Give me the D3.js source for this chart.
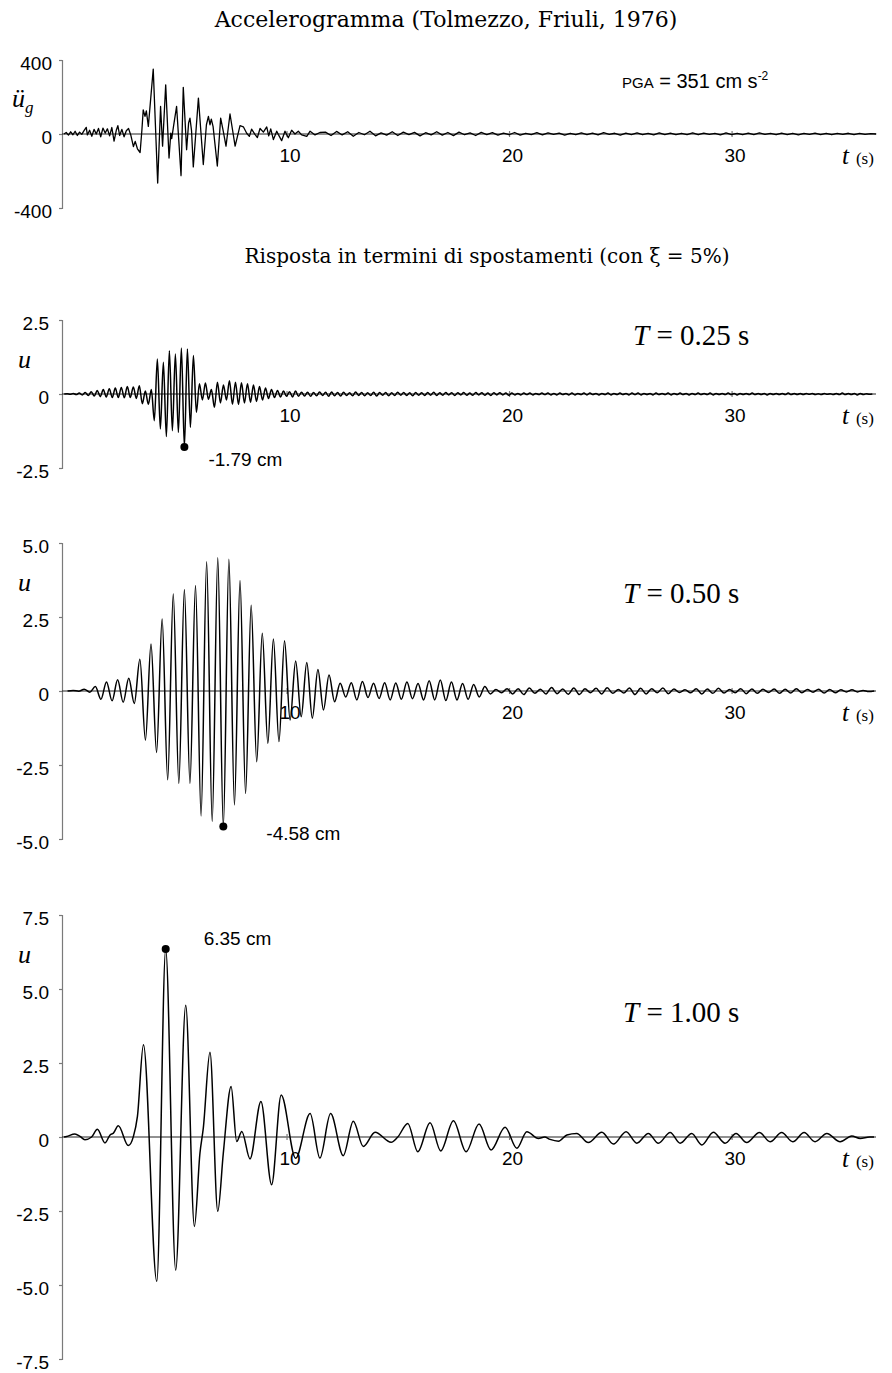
<!DOCTYPE html>
<html>
<head>
<meta charset="utf-8">
<script src="https://cdn.jsdelivr.net/npm/d3@7"></script>
<style>
  body { margin: 0; background: #fff; }
  text { fill: #000; }
</style>
</head>
<body>
<svg id="chart" width="892" height="1373"></svg>
<script>
// ---------------------------------------------------------------
// Ground acceleration, Tolmezzo (Friuli 1976), cm/s^2
// strong-motion part as [t (s), a] pairs
const accelMain = [
  [0,0],[0.1,8],[0.2,-6],[0.3,12],[0.4,-4],[0.5,15],[0.6,-8],[0.7,10],[0.8,-2],[0.9,18],
  [1.0,36],[1.05,-5],[1.15,20],[1.25,-12],[1.35,25],[1.45,0],[1.55,30],[1.65,-15],[1.75,32],
  [1.85,5],[1.95,28],[2.05,-10],[2.15,35],[2.25,-38],[2.35,20],[2.42,45],[2.5,-8],[2.6,25],
  [2.7,-15],[2.8,18],[2.9,30],[3.0,-5],[3.12,-68],[3.2,-40],[3.3,-80],[3.42,-100],[3.5,20],
  [3.56,130],[3.64,95],[3.7,125],[3.79,41],[4.01,351],[4.21,-265],[4.34,149],[4.43,-66],
  [4.57,266],[4.72,-130],[4.8,5],[4.84,-25],[4.92,40],[5.06,149],[5.26,-225],[5.36,252],
  [5.51,-85],[5.6,60],[5.66,86],[5.73,20],[5.81,-178],[6.04,194],[6.26,-165],[6.4,50],
  [6.49,95],[6.56,50],[6.62,80],[6.7,40],[6.89,-173],[7.04,86],[7.15,20],[7.28,-66],
  [7.46,108],[7.69,-66],[7.91,45],[8.06,39],[8.21,4],[8.33,-13],[8.43,26],[8.58,-2],
  [8.69,-19],[8.81,30],[8.96,10],[9.11,38],[9.2,-10],[9.29,28],[9.41,-30],[9.56,15],
  [9.63,-2],[9.78,-36],[9.93,15],[10.08,-20],[10.23,20],[10.38,0],[10.53,15],[10.68,-5],
  [10.91,-13],[11.06,15],[11.28,-5],[11.5,8]
];
// weak tail, one reading every 0.25 s starting at 11.75 s
const accelTailStart = 11.75;
const accelTailStep = 0.25;
const accelTail = [
  10,-8,14,-5,12,-12,8,-4,15,-10,6,-6,12,-8,10,-3,9,-10,7,-5,12,-6,8,-9,10,-4,6,-8,9,-3,7,-6,
  5,-4,8,-6,4,-3,7,-5,6,-2,5,-6,4,-4,6,-3,5,-5,7,-2,4,-6,5,-3,6,-4,3,-5,6,-3,5,-4,
  4,-3,6,-4,5,-2,3,-5,6,-3,4,-4,5,-3,6,-2,3,-4,5,-3,4,-5,3,-2,5,-3,4,-4,3,-2,4,-3,3,-2,2,0
];
const pga = 351;

// Displacement response u (cm), T = 0.25 s: successive extremes every half cycle
const u025Start = 0.01;
const u025Step = 0.135;
const u025 = [
  0,0.01,-0.01,0.02,-0.02,0.03,-0.03,0.05,-0.05,0.08,-0.07,0.12,-0.09,0.15,-0.1,0.18,-0.12,0.2,
  -0.12,0.22,-0.13,0.25,-0.12,0.24,-0.15,0.28,-0.33,0.1,-0.35,0.15,
  -0.9,1.18,-1.18,1.07,-1.44,1.46,-1.24,1.35,-1.30,1.55,-1.79,1.52,-1.13,1.30,-0.62,
  0.35,-0.2,0.37,-0.18,0.15,-0.45,0.4,-0.3,0.3,-0.2,0.45,-0.35,0.4,-0.35,0.38,-0.3,0.35,-0.28,
  0.3,-0.25,0.25,-0.2,0.2,-0.15,0.15,-0.12,0.12,-0.1,0.1,-0.08,0.08,-0.1,0.1,-0.08,0.06,
  -0.07,0.06,-0.08,0.05,-0.06,0.07,-0.05,0.06,-0.08,0.07,-0.06,0.05,-0.07,0.06,-0.05,0.04,
  -0.06,0.07,-0.05,0.05,-0.06,0.04,-0.05,0.06,-0.07,0.05,-0.04,0.05,-0.06,0.04,-0.05,0.06,
  -0.04,0.05,-0.05,0.04,-0.06,0.05,-0.04,0.04,-0.05,0.05,-0.04,0.06,-0.05,0.04,-0.04,0.05,
  -0.03,0.04,-0.05,0.04,-0.03,0.05,-0.04,0.03,-0.04,0.05,-0.03,0.04,-0.04,0.03,-0.05,0.04,
  -0.03,0.04,-0.03,0.03,-0.04,0.03,
  -0.03,0.02,-0.03,0.03,-0.02,0.03,-0.03,0.02,-0.02,0.03,-0.02,0.03,-0.03,0.02,-0.03,0.03,
  -0.02,0.02,-0.03,0.03,-0.03,0.02,-0.02,0.03,-0.03,0.03,-0.02,0.02,-0.03,0.02,-0.02,0.03,
  -0.03,0.02,-0.02,0.03,-0.02,0.02,-0.03,0.03,-0.02,0.03,-0.03,0.02,-0.02,0.02,-0.03,0.03,
  -0.02,0.02,-0.02,0.03,-0.03,0.02,-0.02,0.03,-0.02,0.02,-0.03,0.02,-0.02,0.03,-0.02,0.02,
  -0.02,0.03,-0.03,0.02,-0.02,0.02,-0.02,0.03,-0.02,0.02,-0.03,0.02,-0.02,0.02,-0.02,0.03,
  -0.02,0.02,-0.02,0.02,-0.03,0.02,-0.02,0.02,-0.02,0.02,-0.02,0.03,-0.02,0.02,-0.02,0.02,
  -0.02,0.02,-0.01,0.02,-0.02,0.01,-0.02,0.02,-0.01,0.01,-0.02,0.02,-0.02,0.03,-0.02,0.02,
  -0.02,0.02,-0.03,0.02,-0.02,0.01,-0.01,0
];
const u025Peak = { t: 5.41, u: -1.79 };

// T = 0.50 s
const u050Start = 0.16;
const u050Step = 0.25;
const u050 = [
  0,0.02,-0.01,0.06,-0.04,0.15,-0.28,0.3,-0.33,0.38,-0.38,0.43,-0.42,
  1.07,-1.66,1.59,-2.08,2.43,-3.0,3.28,-3.12,3.43,-3.12,3.56,-4.22,4.37,-4.41,4.5,-4.58,
  4.45,-3.85,3.73,-3.46,2.9,-2.39,1.95,-1.77,1.76,-1.71,1.7,-0.98,1.01,-0.87,0.96,-0.92,0.73,
  -0.64,0.54,-0.36,0.26,-0.2,0.28,-0.3,0.32,-0.22,0.26,-0.25,0.28,-0.3,0.27,-0.28,0.3,-0.26,
  0.25,-0.3,0.35,-0.3,0.37,-0.32,0.3,-0.3,0.25,-0.28,0.22,-0.2,0.15,-0.1,0.05,-0.06,0.08,
  -0.1,0.08,-0.12,0.1,-0.08,0.06,-0.1,0.12,-0.09,0.07,-0.11,0.1,-0.12,0.08,-0.06,0.09,-0.1,
  0.11,-0.08,0.05,-0.07,0.1,-0.12,0.09,-0.1,0.08,-0.06,0.1,-0.09,0.07,-0.05,0.04,-0.06,0.08,
  -0.1,0.07,-0.08,0.09,-0.07,0.05,-0.06,0.08,-0.09,0.07,-0.08,0.06,-0.05,0.07,-0.08,0.06,
  -0.07,0.08,-0.06,0.05,-0.04,0.06,-0.07,0.05,-0.06,0.04,-0.03,0.04,-0.03,0.02,-0.02,0
];
const u050Peak = { t: 7.16, u: -4.58 };

// T = 1.00 s, [t (s), u (cm)]
const u100 = [
  [0,0],[0.12,0.02],[0.49,0.1],[0.72,0.02],[0.94,-0.09],[1.24,0],[1.5,0.26],[1.84,-0.2],
  [2.07,0.07],[2.22,0.13],[2.44,0.38],[2.89,-0.29],[3.12,0.02],[3.3,0.7],[3.57,3.12],
  [4.17,-4.88],[4.57,6.35],[5.02,-4.5],[5.47,4.45],[5.86,-3.02],[6.11,-0.54],[6.26,0.3],
  [6.56,2.86],[6.91,-2.51],[7.16,-0.54],[7.51,1.71],[7.76,-0.15],[7.99,0.19],[8.36,-0.74],
  [8.85,1.2],[9.33,-1.61],[9.76,1.42],[10.41,-0.72],[11.06,0.79],[11.5,-0.71],[11.98,0.79],
  [12.55,-0.63],[13.0,0.53],[13.45,-0.32],[13.98,0.16],[14.7,-0.18],[15.0,0],[15.45,0.46],
  [15.9,-0.5],[16.45,0.48],[16.93,-0.47],[17.5,0.55],[18.07,-0.5],[18.65,0.44],[19.19,-0.44],
  [19.82,0.33],[20.35,-0.38],[20.8,0.18],[21.32,-0.05],[21.6,0],[21.84,-0.08],[22.22,-0.14],
  [22.6,0.07],[23.04,0.12],[23.56,-0.19],[24.17,0.16],[24.69,-0.24],[25.26,0.18],[25.74,-0.21],
  [26.26,0.12],[26.71,-0.21],[27.24,0.15],[27.69,-0.21],[28.21,0.12],[28.66,-0.27],[29.18,0.16],
  [29.71,-0.21],[30.2,0.12],[30.68,-0.19],[31.25,0.15],[31.73,-0.16],[32.25,0.15],[32.75,-0.16],
  [33.26,0.15],[33.75,-0.16],[34.28,0.12],[34.88,-0.16],[35.4,0.03],[35.78,-0.05],[36.2,0],[36.4,0]
];
const u100Peak = { t: 4.57, u: 6.35 };

// axis ticks
const timeTicks = [10, 20, 30];
const accelTicks = [-400, 0, 400];
const u025Ticks = [-2.5, 0, 2.5];
const u050Ticks = [-5, -2.5, 0, 2.5, 5];
const u100Ticks = [-7.5, -5, -2.5, 0, 2.5, 5, 7.5];
const tEnd = 36.4;

// ---------------------------------------------------------------
const W = 892, H = 1373;
const svg = d3.select('#chart');
svg.append('rect').attr('width', W).attr('height', H).attr('fill', '#fff');

const SANS = "'Liberation Sans', Arial, sans-serif";
const SERIF = "'Liberation Serif', 'Times New Roman', serif";
const TITLE = "'DejaVu Serif', serif";

const x = d3.scaleLinear().domain([0, tEnd]).range([64, 874]);
const AXIS_X = 62;

// plain hyphen for negative numbers
const hyphen = s => s.replace('\u2212', '-');

function pairsFromSteps(start, step, vals) {
  return vals.map((v, i) => [start + i * step, v]);
}

function panel(opts) {
  const y = d3.scaleLinear().domain([-opts.max, opts.max]).range([opts.bottom, opts.top]);
  const g = svg.append('g');

  // vertical axis
  const yAxis = d3.axisLeft(y)
    .tickValues(opts.ticks)
    .tickSize(3)
    .tickSizeOuter(3)
    .tickPadding(opts.pad)
    .tickFormat(opts.fmt);
  const ya = g.append('g').attr('transform', `translate(${AXIS_X},0)`).call(yAxis);
  ya.select('.domain').attr('stroke', '#7a7a7a').attr('stroke-width', 1.2);
  ya.selectAll('.tick line').attr('stroke', '#7a7a7a').attr('stroke-width', 1.2);
  ya.selectAll('.tick text')
    .attr('font-family', SANS).attr('font-size', 19).attr('fill', '#000')
    .attr('dy', '0.52em');

  // zero line with time ticks
  const y0 = y(0);
  g.append('line')
    .attr('x1', AXIS_X).attr('x2', 876).attr('y1', y0).attr('y2', y0)
    .attr('stroke', '#222').attr('stroke-width', 1);
  const xAxis = d3.axisBottom(x).tickValues(timeTicks).tickSize(6).tickPadding(12).tickFormat(d3.format('d'));
  const xa = g.append('g').attr('transform', `translate(0,${y0 - 3})`).call(xAxis);
  xa.select('.domain').remove();
  xa.selectAll('.tick line').attr('stroke', '#7a7a7a').attr('stroke-width', 1.2);
  xa.selectAll('.tick text')
    .attr('font-family', SANS).attr('font-size', 19).attr('fill', '#000').attr('dx', 3);

  // "t (s)"
  const tl = g.append('text').attr('x', 842).attr('y', y0 + 30).attr('font-family', SERIF);
  tl.append('tspan').attr('font-style', 'italic').attr('font-size', 25).text('t');
  tl.append('tspan').attr('font-size', 17).attr('dx', 7).text('(s)');

  // data curve
  const line = d3.line()
    .x(d => x(d[0]))
    .y(d => y(d[1]))
    .curve(opts.curve);
  g.append('path')
    .datum(opts.data)
    .attr('d', line)
    .attr('fill', 'none')
    .attr('stroke', '#000')
    .attr('stroke-width', opts.width || 1.5)
    .attr('stroke-linejoin', 'round');

  // peak marker
  if (opts.peak) {
    const px = x(opts.peak.t), py = y(opts.peak.u);
    g.append('circle').attr('cx', px).attr('cy', py).attr('r', 4).attr('fill', '#000');
    g.append('text')
      .attr('x', px + opts.peakDx).attr('y', py + opts.peakDy)
      .attr('font-family', SANS).attr('font-size', 19)
      .text(hyphen(d3.format('.2f')(opts.peak.u)) + ' cm');
  }
  return { g, y };
}

// ---- titles
svg.append('text')
  .attr('x', 446).attr('y', 27).attr('text-anchor', 'middle')
  .attr('font-family', TITLE).attr('font-size', 22)
  .text('Accelerogramma (Tolmezzo, Friuli, 1976)');

svg.append('text')
  .attr('x', 487).attr('y', 263).attr('text-anchor', 'middle')
  .attr('font-family', TITLE).attr('font-size', 20)
  .text('Risposta in termini di spostamenti (con ξ = 5%)');

// ---- accelerogram
const accelData = accelMain.concat(pairsFromSteps(accelTailStart, accelTailStep, accelTail));
const p1 = panel({
  top: 60, bottom: 208, max: 400, ticks: accelTicks, pad: 7,
  fmt: d => hyphen(d3.format('d')(d)), data: accelData, curve: d3.curveLinear, width: 1.3
});
const lab1 = p1.g.append('text').attr('x', 12).attr('y', 107).attr('font-family', SERIF);
lab1.append('tspan').attr('font-style', 'italic').attr('font-size', 26).text('ü');
lab1.append('tspan').attr('font-style', 'italic').attr('font-size', 17).attr('dy', 6).text('g');

const pgaText = p1.g.append('text').attr('x', 622).attr('y', 88).attr('font-family', SANS);
pgaText.append('tspan').attr('font-size', 15).text('PGA');
pgaText.append('tspan').attr('font-size', 20).text(` = ${pga} cm s`);
pgaText.append('tspan').attr('font-size', 12).attr('dy', -8).text('-2');

// ---- responses
const fmt1 = d => d === 0 ? '0' : hyphen(d3.format('.1f')(d));
function uLabel(g, yTop) {
  g.append('text').attr('x', 18).attr('y', yTop + 48)
    .attr('font-family', SERIF).attr('font-style', 'italic').attr('font-size', 26).text('u');
}
function periodLabel(g, xPos, yPos, txt) {
  const t = g.append('text').attr('x', xPos).attr('y', yPos)
    .attr('font-family', SERIF).attr('font-size', 29);
  t.append('tspan').attr('font-style', 'italic').text('T');
  t.append('tspan').text(' = ' + txt + ' s');
}

const p2 = panel({
  top: 320, bottom: 468, max: 2.5, ticks: u025Ticks, pad: 10, fmt: fmt1,
  data: pairsFromSteps(u025Start, u025Step, u025), curve: d3.curveMonotoneX,
  peak: u025Peak, peakDx: 24, peakDy: 19
});
uLabel(p2.g, 320);
periodLabel(p2.g, 633, 345, '0.25');

const p3 = panel({
  top: 543, bottom: 839, max: 5, ticks: u050Ticks, pad: 10, fmt: fmt1,
  data: pairsFromSteps(u050Start, u050Step, u050), curve: d3.curveMonotoneX,
  peak: u050Peak, peakDx: 43, peakDy: 13
});
uLabel(p3.g, 543);
periodLabel(p3.g, 623, 603, '0.50');

const p4 = panel({
  top: 915, bottom: 1359, max: 7.5, ticks: u100Ticks, pad: 10, fmt: fmt1,
  data: u100, curve: d3.curveMonotoneX,
  peak: u100Peak, peakDx: 38, peakDy: -4
});
uLabel(p4.g, 915);
periodLabel(p4.g, 623, 1022, '1.00');
</script>
</body>
</html>
